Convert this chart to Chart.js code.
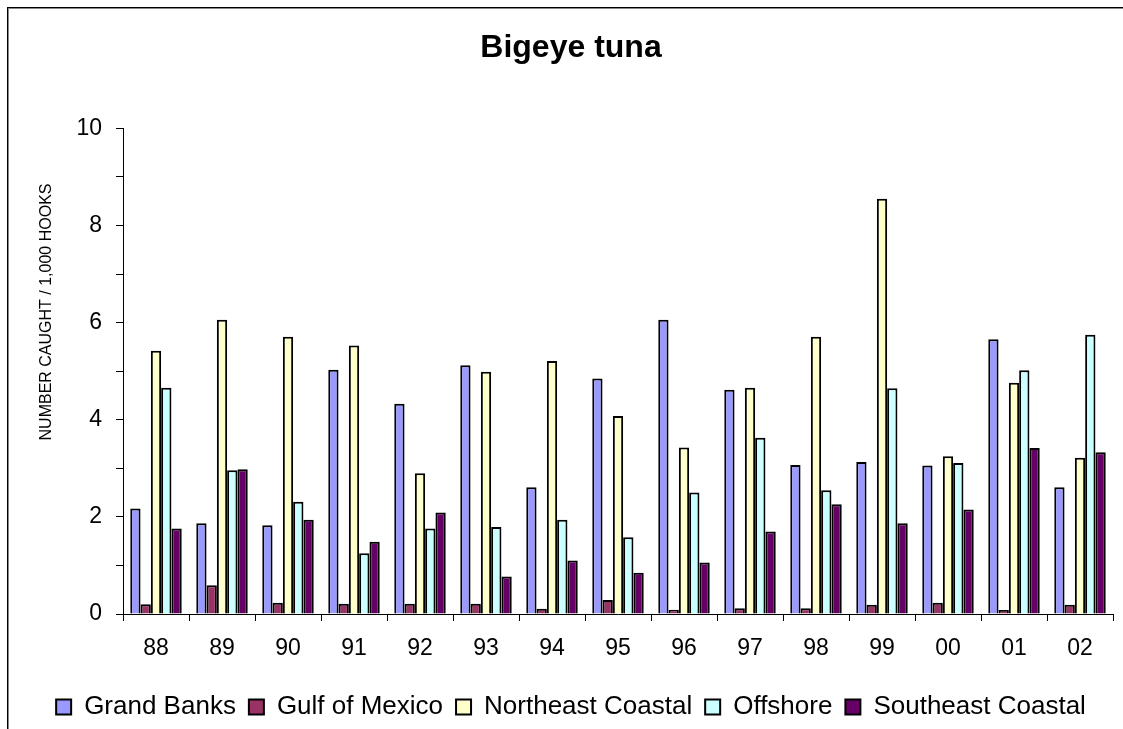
<!DOCTYPE html>
<html>
<head>
<meta charset="utf-8">
<script src="https://cdn.jsdelivr.net/npm/chart.js@4.4.0/dist/chart.umd.min.js"></script>
<style>
  html, body { margin: 0; padding: 0; background: #fff; }
  #wrap { width: 1123px; height: 729px; position: relative; }
</style>
</head>
<body>
<div id="wrap"><canvas id="c" width="1123" height="729"></canvas></div>
<script>
const chartTitle = 'Bigeye tuna';
const yAxisTitle = 'NUMBER CAUGHT / 1,000 HOOKS';
const categories = ['88','89','90','91','92','93','94','95','96','97','98','99','00','01','02'];
const seriesNames = ['Grand Banks','Gulf of Mexico','Northeast Coastal','Offshore','Southeast Coastal'];
const grandBanks       = [2.17,1.87,1.83,5.03,4.33,5.12,2.61,4.85,6.06,4.62,3.07,3.13,3.06,5.66,2.61];
const gulfOfMexico     = [0.20,0.59,0.23,0.21,0.21,0.21,0.11,0.29,0.09,0.12,0.12,0.19,0.23,0.08,0.19];
const northeastCoastal = [5.42,6.06,5.71,5.53,2.90,4.99,5.21,4.08,3.43,4.66,5.71,8.55,3.25,4.76,3.22];
const offshore         = [4.66,2.96,2.31,1.25,1.76,1.79,1.94,1.58,2.50,3.63,2.55,4.65,3.11,5.02,5.75];
const southeastCoastal = [1.76,2.98,1.94,1.49,2.09,0.77,1.10,0.85,1.06,1.70,2.26,1.87,2.15,3.42,3.33];
const yTickValues = [0,2,4,6,8,10];

const colors = ['#9999FF','#993366','#FFFFCC','#CCFFFF','#660066'];
const seriesData = [grandBanks, gulfOfMexico, northeastCoastal, offshore, southeastCoastal];
const FONT = "'Liberation Sans', Arial, sans-serif";

const framePlugin = {
  id: 'frame',
  beforeDraw(chart) {
    const ctx = chart.ctx;
    ctx.save();
    ctx.fillStyle = '#fff';
    ctx.fillRect(0, 0, chart.width, chart.height);
    ctx.strokeStyle = '#888';
    ctx.lineWidth = 1;
    ctx.strokeRect(8.5, 8.5, 3000, 3000);
    ctx.strokeStyle = '#000';
    ctx.strokeRect(7.5, 7.5, 3000, 3000);
    ctx.restore();
  }
};

const yTitlePlugin = {
  id: 'ytitle',
  afterDraw(chart) {
    const ctx = chart.ctx;
    ctx.save();
    ctx.font = "16px " + FONT;
    ctx.translate(47, 312);
    ctx.rotate(-Math.PI / 2);
    ctx.fillStyle = '#000';
    ctx.textAlign = 'center';
    ctx.textBaseline = 'middle';
    ctx.fillText(yAxisTitle, 0, 0);
    ctx.restore();
  }
};

new Chart(document.getElementById('c'), {
  type: 'bar',
  data: {
    labels: categories,
    datasets: seriesNames.map((name, i) => ({
      label: name,
      data: seriesData[i],
      backgroundColor: colors[i],
      borderColor: '#000',
      borderWidth: 2,
      categoryPercentage: 0.78,
      barPercentage: 1.0
    }))
  },
  options: {
    responsive: false,
    animation: false,
    layout: { padding: { left: 29, right: 10, top: 0, bottom: 0 } },
    plugins: {
      title: {
        display: true,
        text: chartTitle,
        color: '#000',
        font: { family: FONT, size: 32, weight: 'bold' },
        padding: { top: 29, bottom: 61 }
      },
      legend: {
        position: 'bottom',
        maxHeight: 48,
        labels: {
          color: '#000',
          font: { family: FONT, size: 26 },
          boxWidth: 15,
          boxHeight: 15,
          padding: 13
        }
      },
      tooltip: { enabled: false }
    },
    scales: {
      x: {
        afterFit(scale) { scale.height = 67; },
        grid: { display: true, drawOnChartArea: false, drawTicks: true, tickLength: 7, color: '#000', offset: true },
        border: { display: true, color: '#000', width: 1 },
        ticks: { color: '#000', font: { family: FONT, size: 23 }, padding: 14, maxRotation: 0 }
      },
      y: {
        min: 0, max: 10,
        afterFit(scale) { scale.width = 94; },
        grid: { display: true, drawOnChartArea: false, drawTicks: true, tickLength: 7, color: '#000' },
        border: { display: true, color: '#000', width: 1 },
        ticks: {
          stepSize: 1,
          color: '#000',
          font: { family: FONT, size: 23 },
          padding: 14,
          callback: (v) => yTickValues.includes(v) ? String(v) : ''
        }
      }
    }
  },
  plugins: [framePlugin, yTitlePlugin]
});
</script>
</body>
</html>
